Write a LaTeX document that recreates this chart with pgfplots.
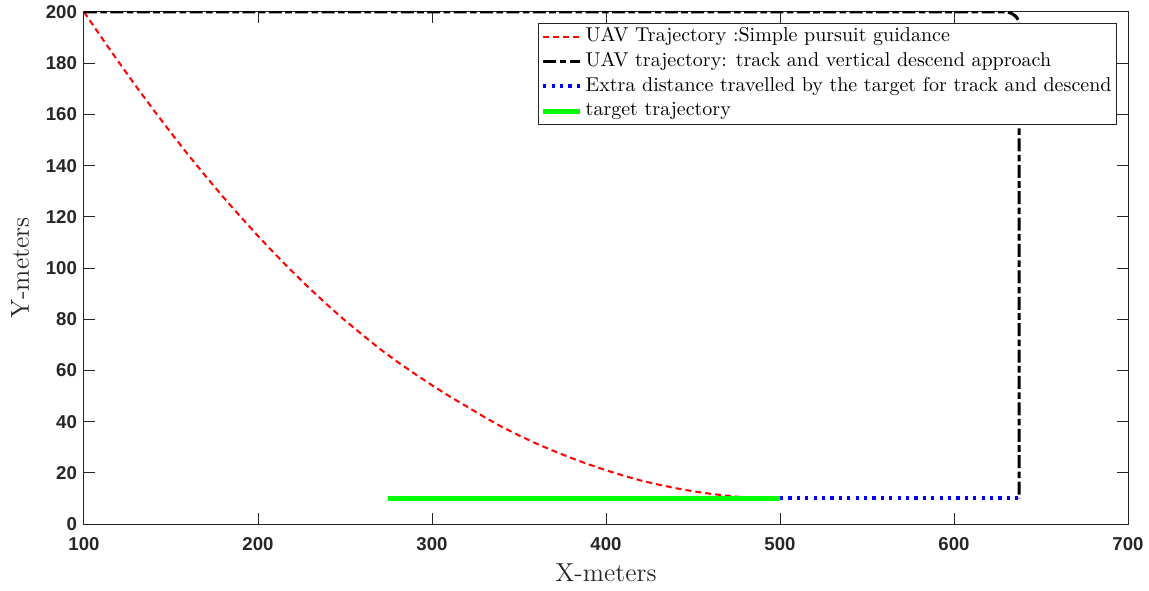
\documentclass[border=0pt]{standalone}
\usepackage{fontspec}
\newfontfamily\ticksfont{Liberation Sans}
\usepackage{pgfplots}
\pgfplotsset{compat=1.18}

\definecolor{txt}{RGB}{38,38,38}
\definecolor{pursuit}{RGB}{255,0,0}
\definecolor{extra}{RGB}{0,0,255}
\definecolor{target}{RGB}{0,255,0}

\begin{document}
\begin{tikzpicture}
\begin{axis}[
  name=ax,
  scale only axis,
  width=522pt, height=256pt,
  xmin=100, xmax=700, ymin=0, ymax=200,
  xtick={100,200,...,700},
  ytick={0,20,...,200},
  tick align=inside,
  major tick length=5.5pt,
  axis line style={draw=txt, line width=0.5pt},
  every tick/.style={draw=txt, line width=0.5pt},
  tick label style={font=\ticksfont\bfseries\fontsize{9.3}{11}\selectfont, text=txt},
  xticklabel style={yshift=-3pt},
  /pgf/number format/assume math mode=true,
  /pgf/number format/1000 sep={},
  xlabel={X-meters},
  ylabel={Y-meters},
  label style={font=\fontsize{13}{15}\selectfont, text=txt},
  xlabel style={at={(axis description cs:0.5,-0.0957)}, anchor=center},
  ylabel style={at={(axis description cs:-0.0613,0.5)}, anchor=center},
  legend style={
    at={(axis description cs:1,1)}, anchor=north east,
    xshift=-5.5pt, yshift=-5.5pt,
    font=\fontsize{10}{12}\selectfont,
    draw=txt, line width=0.5pt,
    inner xsep=1pt, inner ysep=0.5pt,
    nodes={inner xsep=1.5pt, inner ysep=1.5pt, text height=7pt, text depth=2.4pt},
    cells={anchor=west},
  },
  legend image code/.code={\draw[#1] (0pt,0pt) -- (18.5pt,0pt);},
]

% UAV path under simple pursuit guidance
\addplot[pursuit, line width=1pt, dash pattern=on 3pt off 2pt] coordinates {
  (100,200) (110,190.1) (120,180.4) (130,170.9) (140,161.7) (150,152.8)
  (160,144.1) (170,135.8) (180,127.7) (190,120.0) (200,112.5) (210,105.3)
  (220,98.4) (230,91.8) (240,85.5) (250,79.5) (260,73.9) (270,68.4)
  (280,63.4) (290,58.7) (300,54.2) (310,49.9) (320,45.9) (330,41.8)
  (340,38.0) (350,34.6) (360,31.4) (370,28.5) (380,25.8) (390,23.3)
  (400,21.0) (410,18.9) (420,17.0) (430,15.4) (440,14.0) (450,12.8)
  (460,11.8) (470,11.0) (480,10.4) (490,10.1)
};
\addlegendentry{UAV Trajectory :Simple pursuit guidance}

% UAV path: track at altitude, then descend vertically
\addplot[black, line width=1.5pt, dash pattern=on 6.5pt off 1.7pt on 3.3pt off 1.7pt] coordinates {
  (100,200) (630,200) (633,199.5) (635.5,198.3) (637.4,196.5) (637.4,10)
};
\addlegendentry{UAV trajectory: track and vertical descend approach}

% Extra target travel during track and descend
\addplot[extra, line width=2pt, dash pattern=on 1.6pt off 2.6pt] coordinates {
  (500,10) (637.4,10)
};
\addlegendentry{Extra distance travelled by the target for track and descend}

% Ground target path
\addplot[target, line width=2.5pt] coordinates {
  (274.5,10) (500,10)
};
\addlegendentry{target trajectory}

\end{axis}
\pgfresetboundingbox
\path[use as bounding box] ([xshift=-42pt,yshift=-33pt]ax.south west) rectangle ([xshift=10.5pt,yshift=6pt]ax.north east);
\end{tikzpicture}
\end{document}
